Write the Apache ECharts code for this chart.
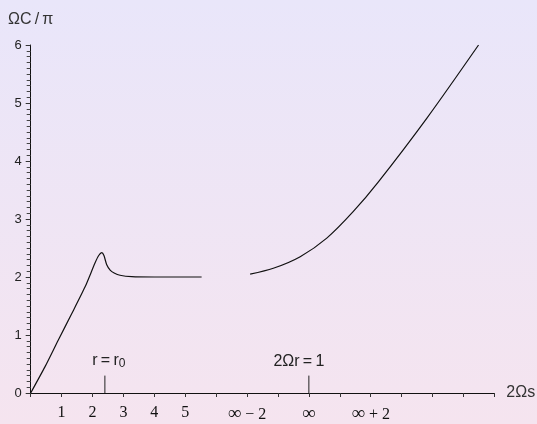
<!DOCTYPE html>
<html>
<head>
<meta charset="utf-8">
<script src="https://cdn.jsdelivr.net/npm/echarts@6/dist/echarts.min.js"></script>
<style>
  html, body { margin: 0; padding: 0; }
  #chart { width: 537px; height: 424px; }
</style>
</head>
<body>
<div id="chart"></div>
<script>
// Rising branch, peak near r = r0, then plateau at 2
const branchLow = [
  [0, 0], [0.46, 0.45], [0.89, 0.91], [1.33, 1.37], [1.76, 1.83],
  [2.08, 2.24], [2.2, 2.37], [2.3, 2.42], [2.37, 2.37], [2.46, 2.21],
  [2.57, 2.12], [2.7, 2.07], [2.89, 2.03], [3.27, 2.005], [4.0, 2.0], [5.53, 2.0]
];
// Branch beyond the break, growing towards 6
const branchHigh = [
  [7.1, 2.05], [7.85, 2.15], [8.72, 2.35], [9.58, 2.67], [10.44, 3.13],
  [11.25, 3.64], [12.82, 4.74], [14.49, 6.0]
];
// Tick labels on the horizontal axis (tick index -> text)
const xTickLabels = { 1: '1', 2: '2', 3: '3', 4: '4', 5: '5', 7: '∞ − 2', 9: '∞', 11: '∞ + 2' };
// Marked positions on the horizontal axis
const markerPositions = [2.4, 9];
const markerHeight = 0.3;

const chart = echarts.init(document.getElementById('chart'));

const blackLine = { color: '#111', width: 1.2 };
const SANS = 'Liberation Sans';
const SERIF = 'Liberation Serif';

// The infinity sign is set larger than the digits
const tickText = v => {
  const t = xTickLabels[v];
  if (!t) return '';
  return t.replace('∞', '{inf|∞}');
};

chart.setOption({
  backgroundColor: {
    type: 'linear', x: 0, y: 0, x2: 0, y2: 1,
    colorStops: [{ offset: 0, color: '#e9e6fa' }, { offset: 1, color: '#f5e4ef' }]
  },
  animation: false,
  grid: { left: 30.7, right: 42.7, top: 45, bottom: 31, containLabel: false, outerBoundsMode: 'none' },
  xAxis: {
    type: 'value', min: 0, max: 15, interval: 1,
    name: '2Ωs', nameLocation: 'end', nameGap: 12,
    nameTextStyle: { fontFamily: SANS, fontSize: 16, color: '#333', verticalAlign: 'middle' },
    axisLine: { show: true, lineStyle: { color: '#111', width: 1 } },
    axisTick: { show: true, inside: false, length: 4, lineStyle: { color: '#333' } },
    axisLabel: {
      margin: 12, fontFamily: SERIF, fontSize: 16, color: '#111',
      formatter: tickText,
      rich: { inf: { fontFamily: SERIF, fontSize: 19, color: '#111' } }
    },
    splitLine: { show: false }
  },
  yAxis: {
    type: 'value', min: 0, max: 6, interval: 1,
    name: 'ΩC\u2009/\u2009π', nameLocation: 'end', nameGap: 17,
    nameTextStyle: { fontFamily: SANS, fontSize: 16, color: '#333', align: 'center' },
    axisLine: { show: true, lineStyle: { color: '#111', width: 1 } },
    axisTick: { show: true, inside: false, length: 5, lineStyle: { color: '#333' } },
    minorTick: { show: true, splitNumber: 10, length: 4, lineStyle: { color: '#444' } },
    axisLabel: { margin: 9, fontFamily: SANS, fontSize: 13, color: '#222' },
    splitLine: { show: false },
    minorSplitLine: { show: false }
  },
  series: [
    {
      type: 'line', data: branchLow, showSymbol: false, smooth: 0.2,
      lineStyle: blackLine
    },
    {
      type: 'line', data: branchHigh, showSymbol: false, smooth: 0.3,
      lineStyle: blackLine
    },
    {
      type: 'line', data: [[markerPositions[0], 0], [markerPositions[0], markerHeight]],
      showSymbol: false, lineStyle: { color: '#222', width: 1 },
      endLabel: {
        show: true, formatter: 'r\u2009=\u2009r{s|0}', offset: [-4, -6],
        fontFamily: SANS, fontSize: 16, color: '#222',
        align: 'center', verticalAlign: 'bottom',
        rich: { s: { fontFamily: SANS, fontSize: 12, color: '#222', padding: [7, 0, 0, 0] } }
      }
    },
    {
      type: 'line', data: [[markerPositions[1], 0], [markerPositions[1], markerHeight]],
      showSymbol: false, lineStyle: { color: '#222', width: 1 },
      endLabel: {
        show: true, formatter: '2Ωr\u2009=\u20091', offset: [-18, -6],
        fontFamily: SANS, fontSize: 16, color: '#222',
        align: 'center', verticalAlign: 'bottom'
      }
    }
  ]
});
</script>
</body>
</html>
